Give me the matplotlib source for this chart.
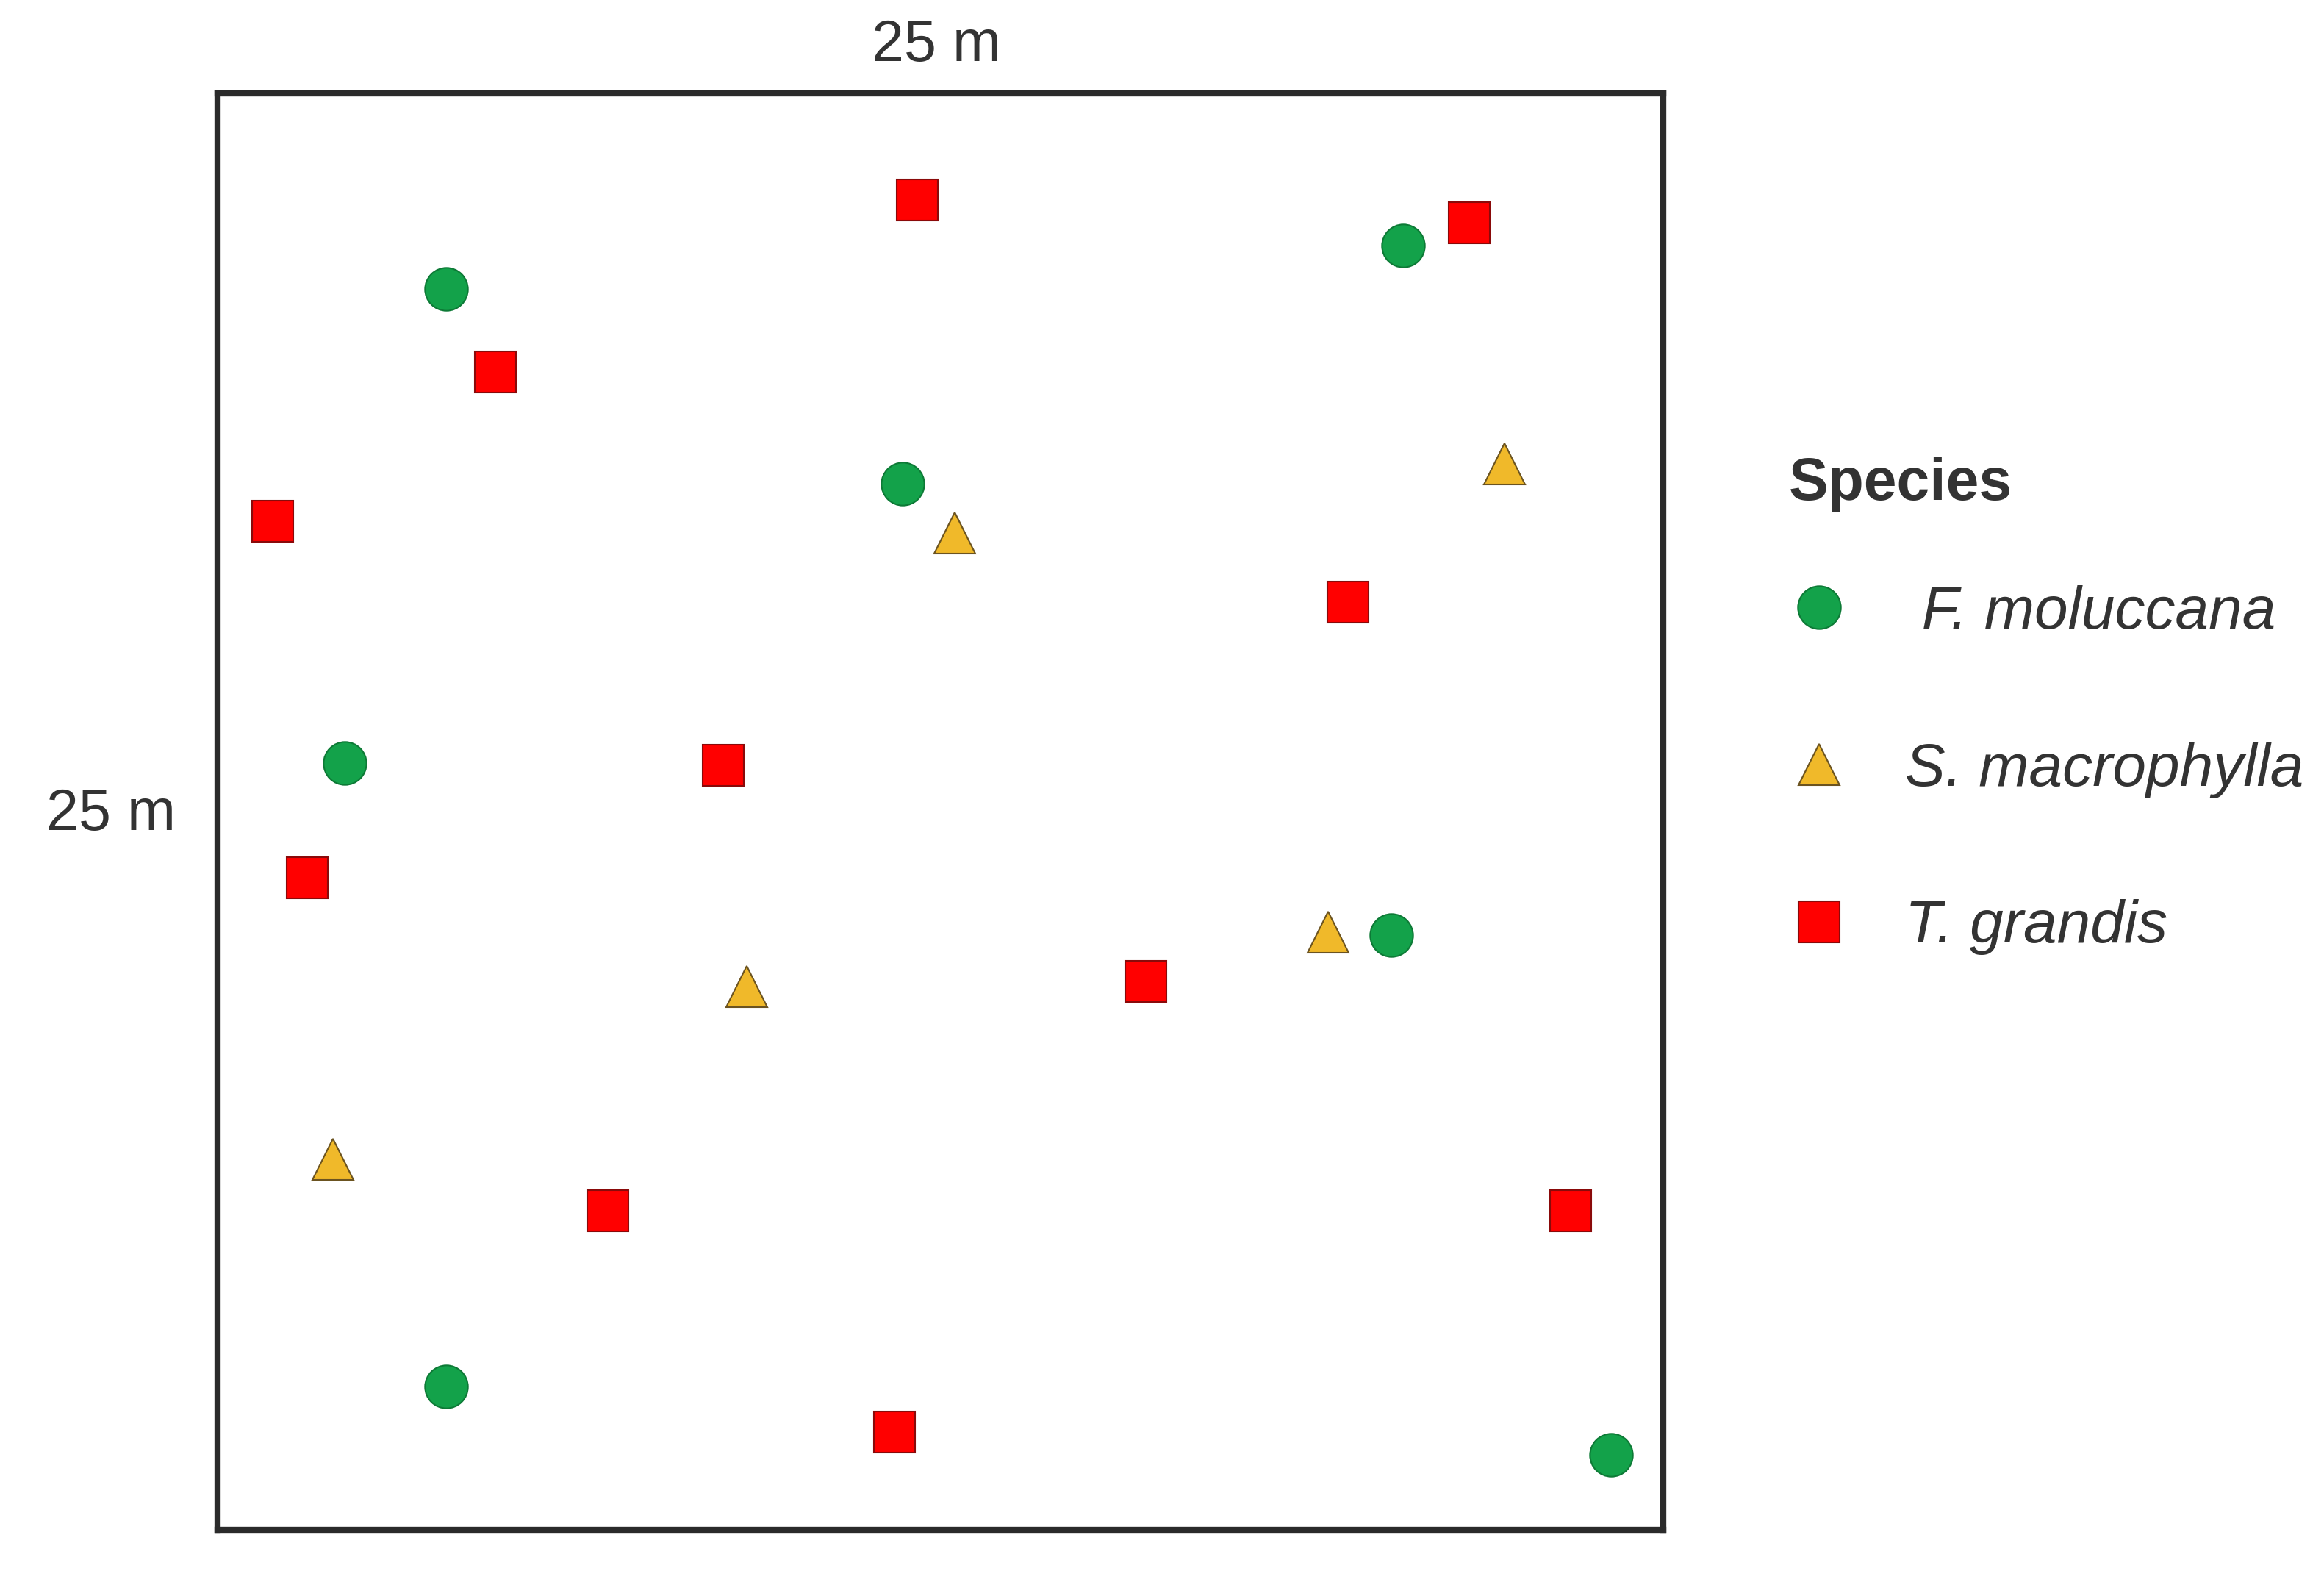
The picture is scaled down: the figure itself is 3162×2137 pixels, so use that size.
import matplotlib.pyplot as plt

plt.rcParams['font.family'] = ['Liberation Sans', 'DejaVu Sans']

# plot coordinates in metres (0-25 each side)
fm_x = [3.95, 20.5, 11.85, 2.2, 20.3, 3.95, 24.1]
fm_y = [21.6, 22.35, 18.2, 13.35, 10.35, 2.5, 1.3]

sm_x = [12.75, 22.25, 19.2, 9.15, 2.0]
sm_y = [17.35, 18.55, 10.4, 9.45, 6.45]

tg_x = [12.1, 21.65, 4.8, 0.95, 19.55, 8.75, 1.55, 16.05, 6.75, 23.4, 11.7]
tg_y = [23.15, 22.75, 20.15, 17.55, 16.15, 13.3, 11.35, 9.55, 5.55, 5.55, 1.7]

species = [' F. moluccana', 'S. macrophylla', 'T. grandis']

fig = plt.figure(figsize=(31.62, 21.37), dpi=100)
ax = fig.add_axes([296 / 3162, 1 - 2081 / 2137, (2263 - 296) / 3162, (2081 - 127) / 2137])

ax.plot(fm_x, fm_y, 'o', ms=42, color='#13a24a', mec='#0d7a36', mew=1.5,
        ls='none', label=species[0])
ax.plot(sm_x, sm_y, '^', ms=40, color='#f0b92a', mec='#6b5320', mew=1.5,
        ls='none', label=species[1])
ax.plot(tg_x, tg_y, 's', ms=41, color='#ff0000', mec='#8a0a0a', mew=1.5,
        ls='none', label=species[2])

ax.set_xlim(0, 25)
ax.set_ylim(0, 25)
ax.set_xticks([])
ax.set_yticks([])
for sp in ax.spines.values():
    sp.set_linewidth(6)
    sp.set_color('#2b2b2b')

fig.text(1274 / 3162, 1 - 62 / 2137, '25 m', ha='center', va='center',
         fontsize=57, color='#333333')
fig.text(151 / 3162, 1 - 1109 / 2137, '25 m', ha='center', va='center',
         fontsize=57, color='#333333')

# legend title drawn separately so the gap can be set freely
fig.text(2434 / 3162, 1 - 659 / 2137, 'Species', ha='left', va='center',
         fontsize=58, fontweight='bold', color='#333333')

leg = ax.legend(loc='upper left', bbox_to_anchor=(2434 / 3162, 1 - 796 / 2137),
                bbox_transform=fig.transFigure, frameon=False, borderpad=0,
                borderaxespad=0, prop={'style': 'italic', 'size': 59},
                labelspacing=1.68, handletextpad=0.93, markerscale=1.0,
                handlelength=1.0)
for t in leg.get_texts():
    t.set_color('#333333')

fig.savefig('out.png', dpi=100, facecolor='white')
